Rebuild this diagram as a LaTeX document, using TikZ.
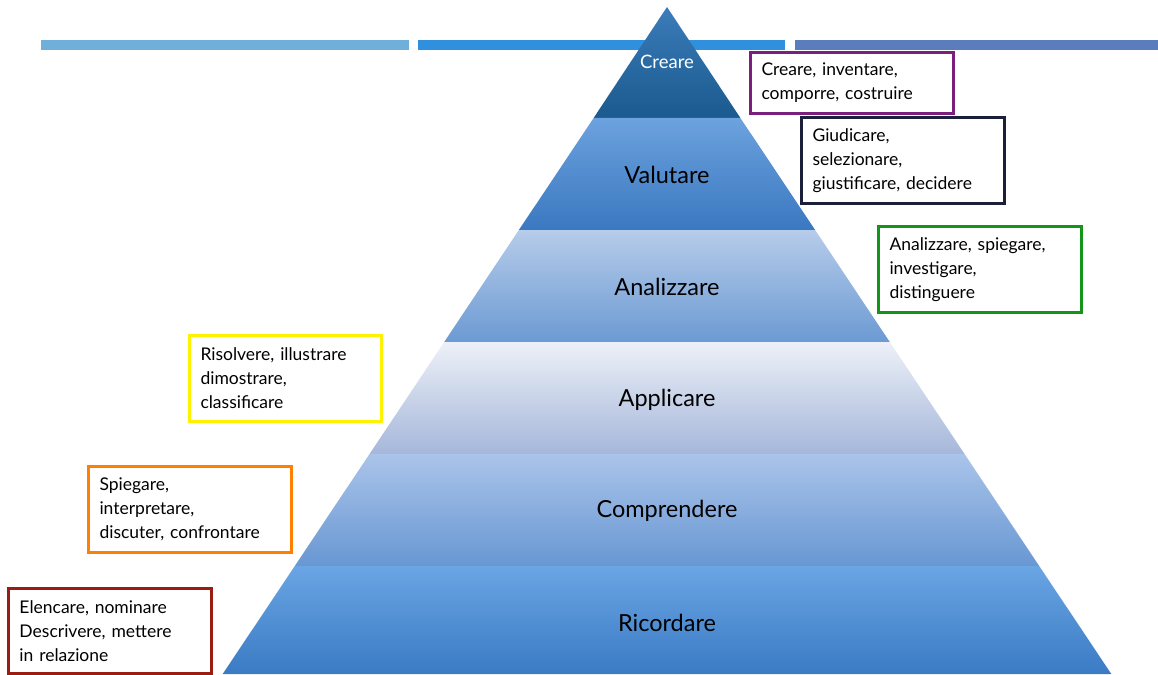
\documentclass[tikz,border=0pt]{standalone}
\usepackage{fontspec}
\setmainfont{Lato}
\definecolor{barA}{HTML}{6FAFD9}
\definecolor{barB}{HTML}{3090DD}
\definecolor{barC}{HTML}{5C7DBD}
\definecolor{cPurple}{HTML}{7B1F7F}
\definecolor{cNavy}{HTML}{1C1F3A}
\definecolor{cGreen}{HTML}{13951A}
\definecolor{cYellow}{HTML}{FFF200}
\definecolor{cOrange}{HTML}{FF7F00}
\definecolor{cRed}{HTML}{9B1C10}
\definecolor{aT}{HTML}{3B7CBA}\definecolor{aB}{HTML}{1A5A8E}
\definecolor{bT}{HTML}{6CA2DE}\definecolor{bB}{HTML}{3A78C0}
\definecolor{cT}{HTML}{B6CCEA}\definecolor{cB}{HTML}{6C9AD3}
\definecolor{dT}{HTML}{EDF0F8}\definecolor{dB}{HTML}{A5B7DA}
\definecolor{eT}{HTML}{AAC4EA}\definecolor{eB}{HTML}{6897D2}
\definecolor{fT}{HTML}{6AA5E4}\definecolor{fB}{HTML}{3A7BC4}
\begin{document}
\begin{tikzpicture}[x=1pt,y=-1pt,
  box/.style={draw=#1, line width=3pt, fill=white, anchor=north west, inner xsep=11pt, inner ysep=0pt,
     align=left, font=\fontsize{17.5}{24}\selectfont, text=black},
  lvl/.style={font=\fontsize{23.5}{28}\selectfont, text=black}]
\useasboundingbox (0,0) rectangle (1158,674);
% top bars
\fill[barA] (41,40) rectangle (409,50);
\fill[barB] (418,40) rectangle (785,50);
\fill[barC] (795,40) rectangle (1158,50);
% pyramid levels
\shade[top color=aT, bottom color=aB] (667,7) -- (740.4,118) -- (593.6,118) -- cycle;
\shade[top color=bT, bottom color=bB] (593.6,118) -- (740.4,118) -- (815.1,230) -- (518.9,230) -- cycle;
\shade[top color=cT, bottom color=cB] (518.9,230) -- (815.1,230) -- (889.8,342) -- (444.2,342) -- cycle;
\shade[top color=dT, bottom color=dB] (444.2,342) -- (889.8,342) -- (964.5,454) -- (369.5,454) -- cycle;
\shade[top color=eT, bottom color=eB] (369.5,454) -- (964.5,454) -- (1039.2,566) -- (294.8,566) -- cycle;
\shade[top color=fT, bottom color=fB] (294.8,566) -- (1039.2,566) -- (1111.3,674) -- (222.7,674) -- cycle;
% level labels
\node[font=\fontsize{18.5}{22}\selectfont, text=white] (creare) at (667,62) {Creare};
\node[lvl] (valutare) at (667,175) {Valutare};
\node[lvl] (analizzare) at (667,287) {Analizzare};
\node[lvl] (applicare) at (667,400) {Applicare};
\node[lvl] (comprendere) at (667,511) {Comprendere};
\node[lvl] (ricordare) at (667,623) {Ricordare};
% boxes
\node[box=cPurple, text width=181pt, minimum height=61pt] (bcreare) at (749,51) {Creare, inventare,\\comporre, costruire};
\node[box=cNavy, text width=181pt, minimum height=86pt] (bvalutare) at (800,116) {Giudicare,\\selezionare,\\giustificare, decidere};
\node[box=cGreen, text width=181pt, minimum height=86pt] (banalizzare) at (877,225) {Analizzare, spiegare,\\investigare,\\distinguere};
\node[box=cYellow, text width=170pt, minimum height=86pt] (bapplicare) at (188,334) {Risolvere, illustrare\\dimostrare,\\classificare};
\node[box=cOrange, text width=181pt, minimum height=86pt] (bcomprendere) at (87,465) {Spiegare,\\interpretare,\\discuter, confrontare};
\node[box=cRed, text width=181pt, minimum height=85pt] (bricordare) at (7,587) {Elencare, nominare\\Descrivere, mettere\\in relazione};
\end{tikzpicture}
\end{document}
